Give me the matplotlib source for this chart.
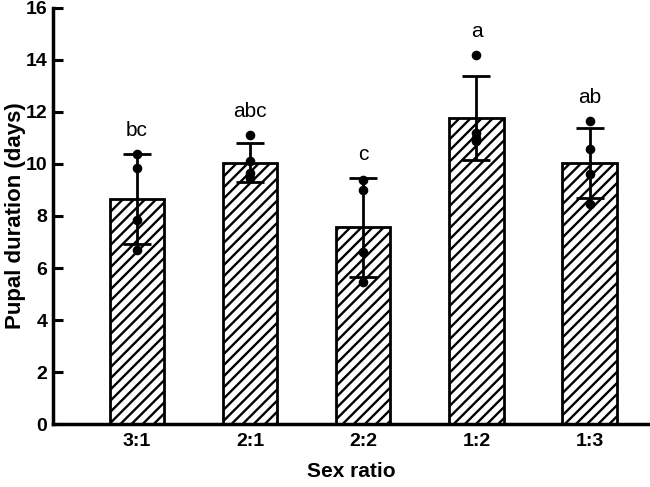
import numpy as np
import matplotlib
matplotlib.use("Agg")
import matplotlib.pyplot as plt

plt.rcParams['font.family'] = ['Liberation Sans', 'DejaVu Sans']
plt.rcParams['hatch.linewidth'] = 1.7

grupy = ["3:1", "2:1", "2:2", "1:2", "1:3"]
srednie = [8.65, 10.04, 7.57, 11.77, 10.04]
sd = [1.73, 0.75, 1.9, 1.62, 1.35]
punkty = [
    [10.4, 9.85, 7.85, 6.7],
    [11.1, 10.1, 9.65, 9.45],
    [9.4, 9.0, 6.6, 5.45],
    [14.2, 11.2, 11.0, 10.9],
    [11.65, 10.58, 9.6, 8.45],
]
litery = ["bc", "abc", "c", "a", "ab"]

fig = plt.figure(figsize=(6.5, 4.87), dpi=100)
ax = fig.add_axes([0.0815, 0.129, 0.918, 0.855])

x = np.arange(len(grupy))
ax.bar(x, srednie, width=0.48, color="white", edgecolor="black",
       linewidth=2, hatch="///", zorder=2)
ax.errorbar(x, srednie, yerr=sd, fmt="none", ecolor="black",
            elinewidth=2, capsize=10, capthick=2, zorder=3)
for i, pts in enumerate(punkty):
    ax.scatter([x[i]] * len(pts), pts, s=35, color="black", zorder=4)
    top = max(max(pts), srednie[i] + sd[i])
    ax.text(x[i], top + 0.9, litery[i], ha="center", va="center", fontsize=15)

ax.set_xlim(-0.74, 4.53)
ax.set_ylim(0, 16)
ax.set_yticks(range(0, 17, 2))
ax.set_xticks(x)
ax.set_xticklabels(grupy)
ax.tick_params(axis="both", direction="in", width=2.2, labelsize=14)
ax.tick_params(axis="y", length=7, pad=4)
ax.tick_params(axis="x", length=4, pad=6)
for lbl in ax.get_xticklabels() + ax.get_yticklabels():
    lbl.set_fontweight("bold")

for s in ["top", "right"]:
    ax.spines[s].set_visible(False)
for s in ["left", "bottom"]:
    ax.spines[s].set_linewidth(2.5)

ax.set_ylabel("Pupal duration (days)", fontsize=16, fontweight="bold", labelpad=0)
ax.set_xlabel("Sex ratio", fontsize=15, fontweight="bold", labelpad=9)

fig.savefig("out.png", dpi=100)
